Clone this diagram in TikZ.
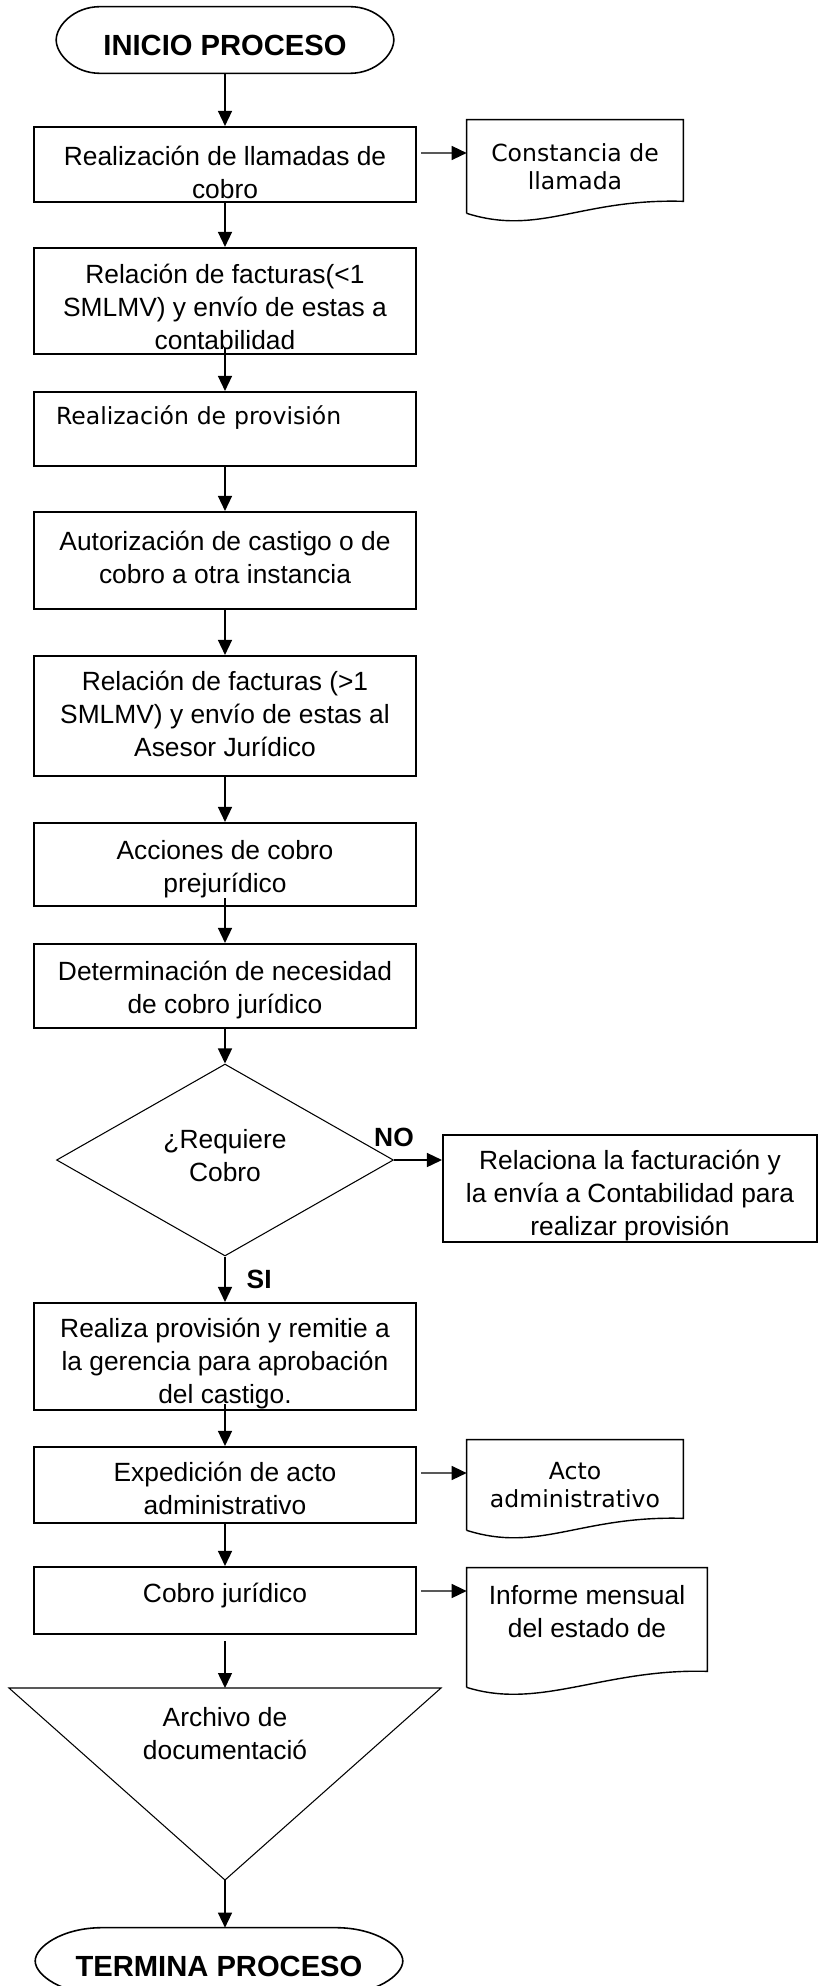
\documentclass[tikz,border=0pt]{standalone}
\usepackage{fontspec}
\setmainfont{Liberation Sans}
\newfontfamily\verdfont{DejaVu Sans}
\usetikzlibrary{arrows.meta,shapes.geometric,positioning,calc}

% outline of a document symbol around a node: #1 node, #2 rise of the right end
\newcommand{\docline}[2]{%
  \draw[docborder] (#1.south west) -- (#1.north west) -- (#1.north east)
    -- ($(#1.south east)+(0,-#2)$)
    .. controls ($(#1.south east)+(-103,-#2-3)$) and ($(#1.south west)+(73,23)$) .. (#1.south west);}

% outline of a start/end symbol around a node: #1 node, #2 length of the ends
\newcommand{\termline}[2]{%
  \draw[termborder] ($(#1.north west)+(#2,0)$) -- ($(#1.north east)+(-#2,0)$)
    .. controls ($(#1.north east)+(-0.4*#2,0)$) and ($(#1.east)+(0,-14)$) .. (#1.east)
    .. controls ($(#1.east)+(0,14)$) and ($(#1.south east)+(-0.4*#2,0)$) .. ($(#1.south east)+(-#2,0)$)
    -- ($(#1.south west)+(#2,0)$)
    .. controls ($(#1.south west)+(0.4*#2,0)$) and ($(#1.west)+(0,14)$) .. (#1.west)
    .. controls ($(#1.west)+(0,-14)$) and ($(#1.north west)+(0.4*#2,0)$) .. cycle;}

% taller first line, to set a text lower in its box
\newcommand{\lowline}[1]{\rule{0pt}{#1}}

\begin{document}
\begin{tikzpicture}[x=0.02cm, y=-0.02cm, >={Triangle[length=0.3cm,width=0.28cm]},
  box/.style={draw, line width=1.2pt, minimum width=7.64cm, align=center, inner xsep=2pt,
              inner ysep=0pt, font=\fontsize{15}{18.8}\selectfont},
  doc/.style={minimum width=4.32cm, align=center, inner sep=2pt,
              font=\verdfont\fontsize{13.4}{16}\selectfont},
  term/.style={minimum height=1.32cm, inner sep=0pt, text depth=0pt,
              font=\bfseries\fontsize{16.6}{20}\selectfont},
  decision/.style={draw, diamond, line width=0.6pt, minimum width=6.74cm, minimum height=3.84cm,
              inner sep=0pt, align=center, font=\fontsize{15}{18.8}\selectfont},
  tag/.style={inner sep=0pt, font=\bfseries\fontsize{15}{18}\selectfont},
  raise/.style={execute at end node={\rule[-#1]{0pt}{#1}}},
  arr/.style={->, line width=0.8pt},
  docborder/.style={line width=0.8pt},
  termborder/.style={line width=0.9pt}]

  \useasboundingbox (0,0) rectangle (818,1986);

  % main column
  \node[term, minimum width=6.74cm, text height=0.62cm] (t0) at (225,40) {INICIO PROCESO};
  \termline{t0}{44}
  \node[box, minimum height=1.5cm] (b1) at (225,164.5) {\lowline{0.71cm}Realización de llamadas de\\cobro};
  \node[box, minimum height=2.12cm] (b2) at (225,301) {\lowline{0.63cm}Relación de facturas(<1\\SMLMV) y envío de estas a\\contabilidad};
  \node[box, minimum height=1.48cm, font=\verdfont\fontsize{13.4}{16}\selectfont,
        align=left, text width=6.76cm, inner xsep=0.44cm] (b3) at (225,429) {Realización de provisión\\ \mbox{}};
  \node[box, minimum height=1.94cm, raise=0.12cm] (b4) at (225,560.5) {Autorización de castigo o de\\cobro a otra instancia};
  \node[box, minimum height=2.4cm, raise=0.1cm] (b5) at (225,716) {Relación de facturas (>1\\SMLMV) y envío de estas al\\Asesor Jurídico};
  \node[box, minimum height=1.66cm] (b6) at (225,864.5) {\lowline{0.55cm}Acciones de cobro\\prejurídico};
  \node[box, minimum height=1.68cm] (b7) at (225,986) {\lowline{0.53cm}Determinación de necesidad\\de cobro jurídico};
  \node[decision, raise=0.2cm] (dq) at (225,1160) {¿Requiere\\Cobro};
  \node[box, minimum width=7.48cm, minimum height=2.14cm] (bno) at (630,1188.5) {\lowline{0.68cm}Relaciona la facturación y\\la envía a Contabilidad para\\realizar provisión};
  \node[box, minimum height=2.14cm] (b8) at (225,1356.5) {\lowline{0.68cm}Realiza provisión y remitie a\\la gerencia para aprobación\\del castigo.};
  \node[box, minimum height=1.52cm] (b9) at (225,1485) {\lowline{0.54cm}Expedición de acto\\administrativo};
  \node[box, minimum height=1.34cm, raise=0.29cm] (b10) at (225,1600.5) {Cobro jurídico};

  % archive triangle
  \coordinate (tritop) at (225,1688);
  \coordinate (tritip) at (225,1880);
  \draw[line width=0.6pt] (9,1688) -- (441,1688) -- (tritip) -- cycle;
  \node[align=center, font=\fontsize{15}{18.8}\selectfont] (arch) at (225,1733.5) {Archivo de\\documentació};

  \node[term, minimum width=7.34cm, text height=0.6cm] (t1) at (219,1961) {TERMINA PROCESO};
  \termline{t1}{67}

  % documents
  \node[doc, minimum height=1.86cm] (d1) at (575,166.5) {Constancia de\\llamada};
  \docline{d1}{12}
  \node[doc, minimum height=1.8cm] (d2) at (575,1485) {Acto\\administrativo};
  \docline{d2}{12}
  \node[doc, minimum width=4.8cm, minimum height=2.38cm, font=\fontsize{15}{18.8}\selectfont] (d3) at (587,1627.5) {Informe mensual\\del estado de\\ \mbox{}};
  \docline{d3}{16}

  % flow
  \draw[arr] (t0) -- (b1);
  \draw[arr] (b1) -- (b2);
  \draw[arr] ([yshift=0.14cm]b2.south) -- (b3);
  \draw[arr] (b3) -- (b4);
  \draw[arr] (b4) -- (b5);
  \draw[arr] (b5) -- (b6);
  \draw[arr] ([yshift=0.18cm]b6.south) -- (b7);
  \draw[arr] (b7) -- (dq);
  \draw[arr] (dq.east) -- node[tag, pos=0, above=0.26cm] {NO} (dq.east -| bno.west);
  \draw[arr] (dq.south) -- node[tag, midway, right=0.42cm] {SI} (b8.north);
  \draw[arr] ([yshift=0.14cm]b8.south) -- (b9);
  \draw[arr] (b9) -- (b10);
  \draw[arr] ([yshift=-0.12cm]b10.south) -- (tritop);
  \draw[arr] (tritip) -- (tritip |- t1.north);

  % outputs
  \draw[arr] ([shift={(4,-11.5)}]b1.east) -- ([yshift=0.23cm]b1.east -| d1.west);
  \draw[arr] ([shift={(4,-12)}]b9.east) -- ([yshift=0.24cm]b9.east -| d2.west);
  \draw[arr] ([shift={(4,-9.5)}]b10.east) -- ([yshift=0.19cm]b10.east -| d3.west);
\end{tikzpicture}
\end{document}
